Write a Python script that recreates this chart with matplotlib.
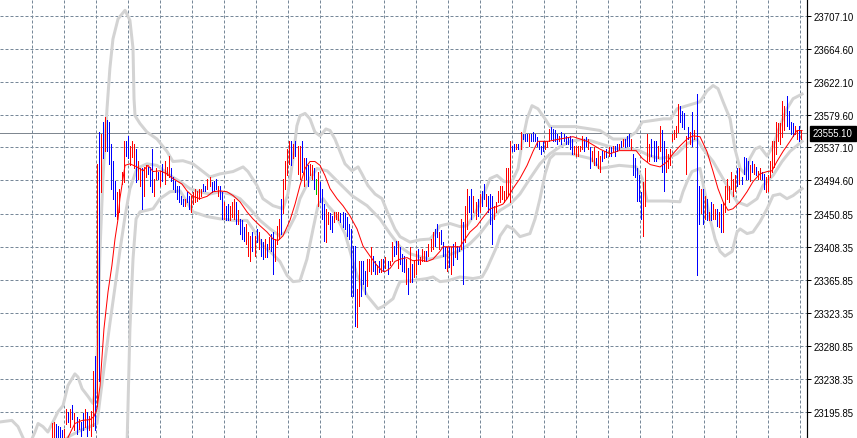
import numpy as np
import matplotlib
matplotlib.use("Agg")
import matplotlib.pyplot as plt
from matplotlib.transforms import blended_transform_factory

# ---------------- data ----------------
bar_high = [
23182,23183,23181,23178,23177,23172,23174,23200,23196,23200,
23205,23194,23190,23187,23183,23194,23200,23196,23191,23197,
23249,23268,23516,23557,23555,23570,23577,23572,23570,23542,
23519,23494,23480,23484,23506,23545,23546,23552,23539,23546,
23542,23535,23520,23510,23510,23512,23514,23512,23512,23535,
23497,23510,23506,23507,23516,23519,23512,23526,23510,23499,
23494,23488,23487,23474,23471,23471,23480,23475,23475,23480,
23484,23481,23484,23484,23490,23488,23497,23499,23493,23494,
23497,23488,23487,23480,23467,23462,23464,23462,23467,23471,
23467,23456,23445,23443,23435,23439,23428,23423,23428,23423,
23432,23428,23419,23415,23419,23413,23422,23426,23428,23419,
23436,23445,23471,23497,23519,23535,23545,23545,23542,23545,
23539,23539,23545,23523,23523,23514,23516,23514,23510,23497,
23506,23493,23484,23464,23458,23454,23452,23449,23454,23454,
23454,23452,23454,23452,23448,23439,23432,23410,23410,23355,
23390,23390,23390,23378,23393,23393,23409,23397,23390,23385,
23391,23393,23393,23396,23391,23391,23415,23410,23417,23417,
23409,23400,23397,23393,23381,23409,23387,23391,23404,23406,
23396,23406,23403,23404,23413,23419,23428,23432,23439,23428,
23430,23415,23409,23409,23409,23409,23413,23415,23410,23409,
23445,23441,23462,23484,23475,23484,23474,23467,23471,23477,
23481,23490,23477,23475,23477,23474,23462,23467,23481,23487,
23488,23481,23510,23510,23545,23539,23542,23542,23542,23557,
23555,23555,23555,23555,23555,23557,23555,23551,23546,23539,
23546,23545,23545,23561,23564,23561,23559,23555,23552,23557,
23555,23552,23551,23552,23548,23539,23539,23539,23539,23552,
23548,23551,23548,23538,23532,23538,23523,23532,23526,23533,
23533,23535,23538,23538,23539,23539,23542,23542,23546,23548,
23548,23552,23555,23548,23529,23523,23510,23501,23480,23493,
23510,23555,23542,23548,23546,23546,23539,23565,23559,23546,
23535,23529,23535,23555,23559,23565,23593,23591,23584,23581,
23552,23564,23557,23583,23559,23606,23487,23484,23484,23475,
23471,23454,23467,23464,23458,23458,23454,23464,23467,23488,
23497,23488,23506,23497,23501,23510,23510,23499,23525,23523,
23519,23514,23519,23516,23512,23507,23510,23506,23503,23499,
23501,23520,23546,23545,23570,23568,23568,23597,23590,23603,
23584,23570,23568,23565,23559,23565,23559]

bar_low = [
23155,23155,23155,23155,23155,23151,23154,23181,23183,23177,
23187,23172,23168,23174,23165,23172,23177,23165,23172,23165,
23178,23172,23204,23236,23480,23523,23532,23532,23516,23484,
23471,23449,23445,23454,23490,23493,23526,23523,23514,23525,
23510,23493,23497,23488,23458,23475,23499,23503,23488,23480,
23475,23497,23497,23488,23494,23490,23501,23499,23494,23484,
23480,23471,23467,23464,23462,23462,23467,23458,23454,23464,
23467,23468,23471,23474,23481,23481,23484,23488,23480,23481,
23484,23475,23471,23445,23445,23443,23443,23443,23448,23445,
23439,23439,23426,23419,23417,23413,23397,23391,23403,23397,
23415,23406,23397,23393,23396,23396,23406,23403,23374,23390,
23413,23419,23426,23452,23484,23501,23516,23514,23523,23526,
23503,23497,23506,23488,23497,23488,23501,23497,23484,23477,
23462,23467,23445,23417,23415,23439,23432,23428,23441,23445,
23443,23441,23435,23432,23423,23419,23346,23346,23307,23306,
23332,23345,23361,23348,23359,23378,23374,23378,23374,23374,
23377,23377,23378,23381,23374,23385,23390,23397,23400,23381,
23387,23378,23377,23361,23348,23364,23364,23370,23374,23387,
23387,23390,23390,23390,23397,23403,23406,23410,23422,23406,
23413,23397,23381,23378,23383,23374,23385,23396,23393,23403,
23406,23361,23415,23432,23454,23445,23454,23445,23449,23454,
23462,23471,23462,23454,23439,23413,23445,23454,23467,23467,
23471,23467,23471,23475,23467,23532,23533,23535,23535,23535,
23548,23545,23546,23539,23546,23545,23545,23539,23535,23529,
23532,23535,23538,23546,23548,23546,23545,23542,23546,23542,
23545,23542,23542,23535,23529,23529,23526,23526,23532,23535,
23532,23539,23535,23510,23519,23514,23514,23510,23506,23519,
23523,23525,23526,23526,23532,23526,23532,23535,23538,23539,
23538,23539,23539,23535,23501,23499,23468,23468,23445,23423,
23461,23518,23520,23526,23520,23519,23523,23533,23506,23481,
23506,23510,23514,23546,23548,23551,23557,23570,23564,23561,
23503,23548,23542,23539,23548,23372,23439,23452,23439,23445,
23443,23443,23443,23445,23445,23436,23435,23428,23428,23454,
23471,23467,23484,23475,23481,23488,23490,23490,23503,23497,
23497,23494,23506,23503,23501,23497,23497,23497,23484,23480,
23481,23499,23506,23512,23529,23545,23542,23551,23559,23565,
23561,23555,23552,23555,23548,23545,23548]

# r = up bar colour, b = down bar colour, g = unchanged
bar_kind = ("rrbbbbr" "rbrbrbrbbrbrr" "rbrb" "rbrbb" "bbb" "rrrr" "bb" "rrr" "b" "rr" "b" "rr"
            "bbb" "rr" "b" "r" "b" "rrr" "bbbbbbb" "r" "bb" "rrrrrr" "bb" "rr" "bbb" "r" "bb" "r"
            "bb" "rrr" "b" "r" "bbb" "rrr" "b" "r" "b" "r" "bb" "r" "b" "r" "bb" "rrr" "b" "rrrr"
            "b" "r" "b" "rr" "b" "r" "bb" "rr" "b" "g" "r" "bbb" "rr" "bb" "rrr" "bbbbbbbb" "rr"
            "bbb" "rrr" "bb" "r" "b" "r" "b" "r" "b" "rr" "bb" "r" "bbb" "r" "b" "r" "b" "rr" "b"
            "rrr" "b" "rrr" "bb" "r" "bbb" "r" "b" "r" "b" "r" "bb" "r" "b" "rr" "bb" "rr" "b" "r"
            "bb" "r" "bbb" "rrrrrrrrr" "bb" "r" "b" "r" "bbb" "r" "bbbbbbb" "rrr" "bbbb" "r"
            "bbbbbb" "rrrrr" "bb" "r" "b" "rr" "b" "rr" "b" "r" "b" "r" "b" "r" "bb" "r" "b" "r"
            "bbb" "r" "bbbbb" "rrrr" "bbb" "rr" "bb" "rrrrrrr" "bbb" "r" "b" "r" "b" "r" "bb" "r"
            "b" "r" "b" "r" "b" "rr" "b" "r" "b" "rrrrrrr" "b" "r" "bbbb" "r" "b" "r" "b" "rr"
            "bb" "rrrrrrrrrr" "bbbb" "rr" "b" "r")

# moving average (bar index, price)
ma_t = [7.8,11.2,14.7,18.6,20.5,22.0,23.5,25.4,27.4,29.3,30.8,32.3,33.2,35.7,38.1,41.5,44.5,46.9,
        49.4,52.8,56.2,59.1,63.5,66.0,68.9,72.3,75.8,78.7,82.1,85.5,88.5,91.9,95.3,98.2,101.7,
        105.1,108.0,110.5,112.9,116.3,118.8,121.2,123.7,126.1,128.5,131.0,133.4,135.9,139.3,
        142.2,145.6,149.1,152.0,155.4,158.8,161.3,162.8,165.2,167.6,170.1,173.5,176.4,179.9,
        183.3,186.2,189.6,191.1,199.4,201.9,204.3,207.7,210.2,214.1,217.5,220.4,222.4,225.3,
        228.7,232.2,235.1,237.5,242.4,248.3,254.6,261.5,267.8,272.7,277.2,285.5,288.5,292.4,
        297.2,300.8,303.5,306.9,310.4,313.3,316.7,320.1,323.1,325.5,328.0,330.4,332.8,336.3,
        339.7,342.6,346.0,349.5,351.9,354.3,357.3,360.7,364.1,366.6]
ma_v = [23163,23181,23185,23186,23190,23200,23230,23303,23351,23385,23419,23445,23471,23514,
        23516,23512,23507,23514,23506,23507,23503,23497,23490,23481,23474,23471,23474,23480,
        23481,23480,23475,23467,23454,23445,23436,23428,23419,23417,23423,23443,23464,23488,
        23510,23519,23519,23514,23501,23484,23471,23462,23449,23432,23410,23397,23385,23378,
        23377,23381,23390,23393,23395,23391,23392,23390,23393,23403,23409,23409,23419,23428,
        23436,23445,23458,23461,23464,23471,23484,23497,23514,23532,23545,23545,23548,23551,
        23545,23535,23529,23533,23533,23523,23515,23512,23519,23529,23539,23548,23552,23551,
        23532,23506,23484,23467,23456,23458,23467,23480,23493,23503,23506,23507,23519,23532,
        23545,23559,23559]

# Bollinger bands (bar index, price)
bb_up_t = [-25.4,-19.6,-16.6,-13.7,-10.8,-8.3,-6.8,-4.4,-2.0,0.5,2.9,5.4,7.8,11.2,12.7,14.7,17.6,
           20.0,21.5,22.5,23.5,24.9,26.9,28.3,29.8,32.3,35.7,38.1,39.6,40.1,40.6,43.0,46.4,51.3,
           56.2,59.1,64.0,68.9,73.8,77.2,82.1,88.5,93.4,95.8,100.2,103.1,108.0,112.9,115.3,117.8,
           119.7,121.2,123.7,126.1,128.5,131.0,133.9,135.9,138.3,143.2,146.6,149.6,151.5,154.4,
           157.9,161.3,164.2,167.6,170.1,175.0,179.9,184.8,187.2,189.6,194.5,199.4,202.8,206.8,
           210.2,214.1,217.5,221.0,224.8,227.8,229.7,232.2,234.6,237.5,241.0,243.4,248.3,255.6,
           263.0,267.8,274.2,280.6,285.5,288.5,293.9,298.9,302.4,305.5,310.4,316.7,320.1,323.1,
           325.5,328.0,331.4,333.8,336.3,338.7,341.1,343.6,346.0,349.5,352.4,355.8,359.2,362.2,366.6]
bb_up_v = [23183,23185,23177,23160,23155,23170,23181,23177,23170,23183,23196,23204,23230,23245,
           23241,23226,23216,23207,23226,23303,23406,23497,23587,23639,23677,23703,23714,23701,
           23665,23600,23578,23568,23557,23548,23532,23519,23520,23516,23506,23499,23503,23506,
           23512,23506,23488,23471,23462,23458,23477,23523,23565,23578,23581,23574,23557,23552,
           23561,23559,23548,23516,23507,23512,23503,23488,23477,23471,23452,23432,23422,23415,
           23418,23419,23426,23436,23439,23435,23436,23452,23471,23497,23501,23493,23493,23510,
           23542,23574,23591,23587,23574,23564,23564,23564,23561,23559,23548,23548,23557,23570,
           23572,23574,23574,23587,23591,23596,23610,23617,23613,23596,23574,23535,23510,23503,
           23523,23535,23538,23526,23539,23565,23587,23600,23606]

bb_mid_t = [3.9,8.8,13.7,18.6,22.0,23.5,25.9,28.3,30.8,33.2,35.7,38.1,41.5,46.4,51.3,57.7,62.6,
            67.4,72.3,77.2,82.1,87.0,91.9,96.8,101.7,106.6,111.4,115.3,118.8,121.2,126.1,129.5,
            134.4,139.3,146.6,154.0,160.3,165.2,170.1,175.0,179.9,184.8,189.6,194.5,199.4,204.3,
            209.2,214.1,219.0,223.9,228.7,233.6,238.5,243.4,248.3,253.2,258.1,263.0,267.8,272.7,
            277.2,282.1,287.0,292.4,297.2,302.4,305.5,310.4,315.2,318.2,323.1,329.9,334.8,339.7,
            344.6,347.5,352.4,356.8,360.7,366.6]
bb_mid_v = [23155,23165,23172,23177,23181,23213,23262,23310,23357,23404,23448,23484,23510,23516,
            23514,23501,23493,23484,23480,23477,23480,23477,23471,23458,23443,23432,23423,23430,
            23448,23471,23497,23510,23507,23494,23475,23462,23445,23426,23409,23400,23396,23393,
            23396,23399,23404,23413,23426,23443,23456,23464,23477,23497,23516,23529,23538,23545,
            23547,23546,23542,23538,23535,23535,23533,23526,23523,23525,23529,23542,23548,23535,
            23519,23488,23467,23462,23471,23488,23501,23519,23532,23545]

bb_lo_t = [36.7,38.1,39.6,41.1,43.0,49.4,52.8,57.7,62.6,68.9,75.8,82.1,88.5,95.3,98.2,103.1,106.6,
           111.4,114.9,117.8,121.2,124.6,127.6,130.0,132.5,134.9,138.3,143.2,149.1,154.0,159.3,
           161.8,166.7,168.6,170.1,175.0,183.3,186.2,189.6,193.1,199.4,205.8,210.2,212.6,217.5,
           219.0,222.4,225.3,228.7,233.6,236.1,238.5,241.0,243.4,245.8,253.2,263.0,267.8,277.2,
           285.5,288.5,290.8,300.8,306.9,308.4,310.4,312.8,316.7,321.6,324.1,326.5,328.9,332.4,
           334.8,336.3,339.7,342.6,346.0,349.5,352.4,355.8,359.2,362.2,366.6]
bb_lo_v = [23155,23303,23393,23445,23454,23458,23471,23480,23481,23454,23448,23445,23443,23443,
           23432,23410,23403,23390,23372,23364,23365,23393,23432,23462,23471,23462,23452,23426,
           23372,23346,23329,23332,23342,23355,23364,23365,23368,23370,23364,23365,23370,23368,
           23370,23381,23410,23423,23436,23432,23422,23426,23445,23471,23503,23523,23529,23529,
           23523,23510,23514,23512,23497,23468,23468,23467,23480,23493,23506,23510,23445,23419,
           23403,23397,23403,23428,23432,23426,23428,23441,23458,23475,23477,23471,23475,23484]

tick_values = [23707.10, 23664.60, 23622.10, 23579.60, 23537.10, 23494.60, 23450.85,
               23408.35, 23365.85, 23323.35, 23280.85, 23238.35, 23195.85]
tick_labels = ["23707.10", "23664.60", "23622.10", "23579.60", "23537.10", "23494.60",
               "23450.85", "23408.35", "23365.85", "23323.35", "23280.85", "23238.35", "23195.85"]
last_price = 23555.10
last_label = "23555.10"

# ---------------- drawing ----------------
PX = 0.72  # one pixel in points at 100 dpi
fig = plt.figure(figsize=(8.57, 4.39), dpi=100)
fig.patch.set_facecolor("white")
ax = fig.add_axes([0, 0, 807 / 857, 1])
ax.set_facecolor("white")
ax.set_xlim(-25.4, 369.0)
ax.set_ylim(23162.3, 23728.6)

# grid
ax.set_xticks(np.arange(-9.92, 369.0, 15.64))
ax.set_yticks(tick_values)
ax.set_yticklabels(tick_labels)
ax.grid(True, color="#778899", lw=PX, ls=(0, (3, 2)), zorder=0)
ax.tick_params(axis="x", length=0, labelbottom=False)
ax.yaxis.tick_right()
ax.tick_params(axis="y", which="both", right=True, left=False, length=3, width=PX,
               color="black", pad=2, labelsize=6.9, labelcolor="black")
for lab in ax.get_yticklabels():
    lab.set_family(["Liberation Sans", "DejaVu Sans"])
for s in ("left", "top", "bottom"):
    ax.spines[s].set_visible(False)
ax.spines["right"].set_color("black")
ax.spines["right"].set_linewidth(PX * 1.2)

# bands
band_col = "#D3D3D3"
ax.plot(bb_up_t, bb_up_v, color=band_col, lw=3 * PX, zorder=2, solid_joinstyle="round")
ax.plot(bb_mid_t, bb_mid_v, color=band_col, lw=3 * PX, zorder=2, solid_joinstyle="round")
ax.plot(bb_lo_t, bb_lo_v, color=band_col, lw=3 * PX, zorder=2, solid_joinstyle="round")

# bars
n = min(len(bar_high), len(bar_low))
kinds = (bar_kind + "r" * n)[:n]
cmap = {"r": "#FF0000", "b": "#0000FF", "g": "#00C000"}
xs = np.arange(n)
ax.vlines(xs, bar_low[:n], bar_high[:n], colors=[cmap[k] for k in kinds],
          lw=PX, zorder=3, antialiased=False)

# moving average
ax.plot(ma_t, ma_v, color="#FF0000", lw=PX, zorder=4)

# last price line + label
ax.axhline(last_price, color="#7F8790", lw=PX, zorder=1)
tr = blended_transform_factory(ax.transAxes, ax.transData)
ax.text(1.0075, last_price, last_label, transform=tr, color="white", fontsize=6.9,
        family=["Liberation Sans", "DejaVu Sans"], va="center", ha="left", clip_on=False,
        zorder=6,
        bbox=dict(boxstyle="square,pad=0.28", fc="black", ec="black"))

fig.savefig("out.png", dpi=100, facecolor="white")
